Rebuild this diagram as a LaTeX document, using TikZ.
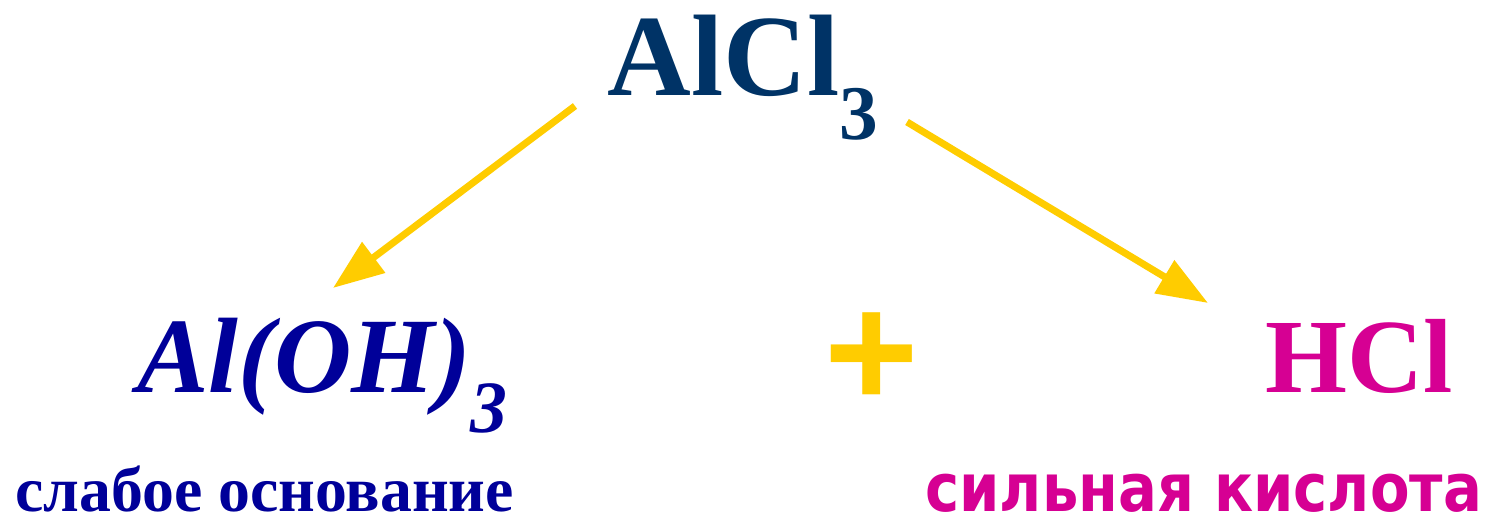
\documentclass[tikz,border=0pt]{standalone}
\usepackage{fontspec}
\setmainfont{Liberation Serif}
\newfontfamily\cyrsans[FakeStretch=0.863]{DejaVu Sans}
\newfontfamily\plusfont{Liberation Sans}
\usepackage{tikz}
\usetikzlibrary{arrows.meta}
\definecolor{saltblue}{HTML}{003366}
\definecolor{baseblue}{HTML}{000099}
\definecolor{acidpink}{HTML}{D60093}
\definecolor{arrowgold}{HTML}{FFCC00}

\begin{document}
\begin{tikzpicture}[x=0.02cm,y=-0.02cm,
    formula/.style={inner sep=0pt,anchor=base west},
    hydro/.style={draw=arrowgold,line width=4pt,-{Triangle[length=1.02cm,width=0.74cm]}}]
    \useasboundingbox (0,0) rectangle (1485,516);
    % salt and its products
    \node[formula,text=saltblue,font=\fontsize{66}{66}\selectfont\bfseries] (salt) at (607,96)
        {AlCl\raisebox{-25pt}{\fontsize{44}{44}\selectfont 3}};
    \node[formula,text=baseblue,font=\fontsize{61}{61}\selectfont\bfseries\itshape] (base) at (137,393)
        {Al(OH)\raisebox{-22.5pt}{\fontsize{42}{42}\selectfont 3}};
    \node[formula,text=acidpink,font=\fontsize{60}{60}\selectfont\bfseries] (acid) at (1265,393) {HCl};
    \node[inner sep=0pt,anchor=base,text=arrowgold,font=\plusfont\fontsize{92}{92}\selectfont\bfseries] (plus) at (872,408) {+};
    % captions
    \node[formula,text=baseblue,font=\fontsize{36.3}{36.3}\selectfont\bfseries] (weak) at (15,512) {слабое основание};
    \node[formula,text=acidpink,font=\cyrsans\fontsize{38}{38}\selectfont\bfseries] (strong) at (925,512) {сильная кислота};
    % hydrolysis arrows
    \draw[hydro] ([shift={(-32,10)}]salt.base west) -- ([shift={(196,-105)}]base.base west);
    \draw[hydro] ([shift={(300,26)}]salt.base west) -- ([shift={(-57,-90)}]acid.base west);
\end{tikzpicture}
\end{document}
